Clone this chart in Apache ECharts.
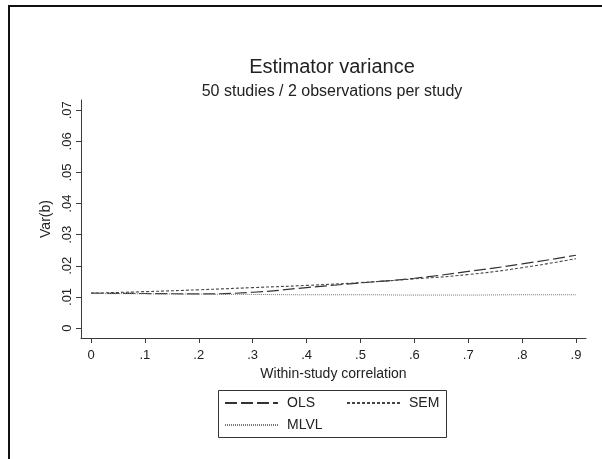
<!DOCTYPE html>
<html>
<head>
<meta charset="utf-8">
<style>html,body{margin:0;padding:0;background:#fff}#c{width:602px;height:459px}</style>
<script src="https://cdn.jsdelivr.net/npm/echarts@6/dist/echarts.min.js"></script>
</head>
<body>
<div id="c"></div>
<script>
const xValues = [0, 0.1, 0.2, 0.3, 0.4, 0.5, 0.6, 0.7, 0.8, 0.9];
const olsValues = [0.0112, 0.0111, 0.0110, 0.0115, 0.0130, 0.0145, 0.0160, 0.0182, 0.0206, 0.0234];
const semValues = [0.0112, 0.0117, 0.0123, 0.0130, 0.0137, 0.0146, 0.0158, 0.0172, 0.0194, 0.0223];
const mlvlValues = [0.0111, 0.0110, 0.0109, 0.0108, 0.0107, 0.0107, 0.0106, 0.0106, 0.0107, 0.0107];
const xTicks = [0, 0.1, 0.2, 0.3, 0.4, 0.5, 0.6, 0.7, 0.8, 0.9];
const yTicks = [0, 0.01, 0.02, 0.03, 0.04, 0.05, 0.06, 0.07];
const titleText = 'Estimator variance';
const subtitleText = '50 studies / 2 observations per study';
const xName = 'Within-study correlation';
const yName = 'Var(b)';

const FONT = 'Liberation Sans, Arial, sans-serif';
const INK = '#222';
const LINE = '#3a3a3a';
const pair = (xs, ys) => xs.map((x, i) => [x, ys[i]]);
const strip = (v, d) => v === 0 ? '0' : v.toFixed(d).replace(/^0\./, '.');

const legendBase = {itemWidth: 53, itemHeight: 14, padding: 0,
  itemStyle: {opacity: 0, borderWidth: 0},
  textStyle: {fontFamily: FONT, fontSize: 14, color: INK, padding: [0, 0, 0, 4]}};

const chart = echarts.init(document.getElementById('c'), null, {renderer: 'canvas'});
chart.setOption({
  animation: false,
  backgroundColor: '#fff',
  title: [
    {text: titleText, left: 332, top: 57, textAlign: 'center', padding: 0,
     textStyle: {fontFamily: FONT, fontSize: 20, fontWeight: 'normal', color: INK}},
    {text: subtitleText, left: 332, top: 84, textAlign: 'center', padding: 0,
     textStyle: {fontFamily: FONT, fontSize: 16, fontWeight: 'normal', color: INK}}
  ],
  grid: {left: 81, right: 16, top: 100, bottom: 121, containLabel: false},
  xAxis: {
    type: 'value', min: -0.0186, max: 0.9186,
    name: xName, nameLocation: 'middle', nameGap: 28,
    nameTextStyle: {fontFamily: FONT, fontSize: 14, color: INK},
    axisLine: {show: true, onZero: false, lineStyle: {color: LINE, width: 1}},
    axisTick: {show: true, length: 5, inside: false, customValues: xTicks, lineStyle: {color: LINE}},
    axisLabel: {customValues: xTicks, margin: 11, fontFamily: FONT, fontSize: 13, color: INK,
      formatter: v => strip(v, 1)},
    splitLine: {show: false}
  },
  yAxis: {
    type: 'value', min: -0.0032, max: 0.0733,
    name: yName, nameLocation: 'middle', nameGap: 24, nameRotate: 90,
    nameTextStyle: {fontFamily: FONT, fontSize: 14, color: INK},
    axisLine: {show: true, onZero: false, lineStyle: {color: LINE, width: 1}},
    axisTick: {show: true, length: 5, inside: false, customValues: yTicks, lineStyle: {color: LINE}},
    axisLabel: {customValues: yTicks, rotate: 90, margin: 7, fontFamily: FONT, fontSize: 13, color: INK,
      formatter: v => strip(v, 2)},
    splitLine: {show: false}
  },
  legend: [
    Object.assign({data: ['OLS'], left: 224, top: 396}, legendBase),
    Object.assign({data: ['SEM'], left: 346, top: 396}, legendBase),
    Object.assign({data: ['MLVL'], left: 224, top: 418}, legendBase)
  ],
  graphic: [
    {type: 'rect', shape: {x: 9, y: 6, width: 700, height: 600}, silent: true,
     style: {fill: 'none', stroke: '#111', lineWidth: 2}},
    {type: 'rect', shape: {x: 218.5, y: 390.5, width: 228, height: 47}, silent: true,
     style: {fill: 'none', stroke: '#333', lineWidth: 1}}
  ],
  series: [
    {name: 'OLS', type: 'line', data: pair(xValues, olsValues), smooth: true, symbol: 'none',
     color: '#333', lineStyle: {color: '#333', width: 1.2, type: [12, 4]}},
    {name: 'SEM', type: 'line', data: pair(xValues, semValues), smooth: true, symbol: 'none',
     color: '#444', lineStyle: {color: '#444', width: 1.1, type: [3, 2]}},
    {name: 'MLVL', type: 'line', data: pair(xValues, mlvlValues), smooth: true, symbol: 'none',
     color: '#777', lineStyle: {color: '#777', width: 1, type: [1, 1]}}
  ]
});
</script>
</body>
</html>
